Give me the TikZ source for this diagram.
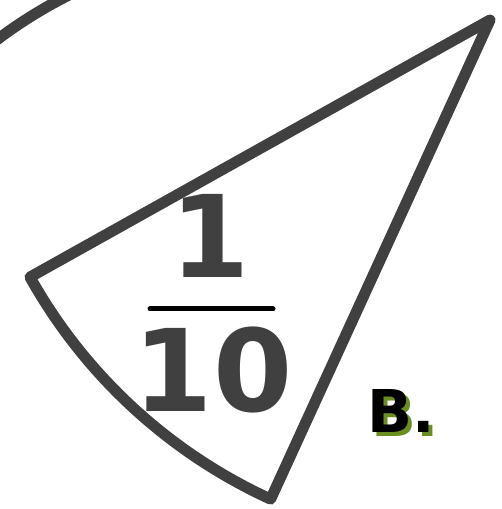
\documentclass[tikz,border=0pt]{standalone}
\usepackage{fontspec}
\setmainfont{DejaVu Sans}
\definecolor{ink}{HTML}{404040}
\definecolor{shadowgreen}{HTML}{6B8E23}
\begin{document}
\begin{tikzpicture}[x=1pt,y=1pt,
  outline/.style={draw=ink,line width=11pt,line join=round},
  bigdigit/.style={text=ink,inner sep=0pt,anchor=base,font=\fontsize{114}{114}\selectfont\bfseries},
  letter/.style={inner sep=0pt,anchor=base west,font=\fontsize{59}{59}\selectfont\bfseries}]
\useasboundingbox (0,0) rectangle (501,509);
\clip (0,0) rectangle (501,509);
\fill[white] (0,0) rectangle (501,509);
% sector
\coordinate (apex) at (490,489);
\draw[outline] (apex) -- ++(209.2:527) coordinate (left)
  arc[start angle=209.2,end angle=245.4,radius=527] coordinate (bottom) -- cycle;
% partial arc top-left
\coordinate (c2) at (280,94);
\draw[draw=ink,line width=11pt] (c2) ++(130:470) arc[start angle=130,end angle=110,radius=470];
% fraction
\node[bigdigit] (num) at (210,231) {1};
\node[bigdigit] (den) at (213,97) {10};
\coordinate (barL) at (150,200);
\coordinate (barR) at (273,200);
\draw[line width=5pt,line cap=round] (barL) -- (barR);
% label
\node[letter,text=shadowgreen] (bs) at (371,72) {B.};
\node[letter,text=black] (b) at (367,76) {B.};
\end{tikzpicture}
\end{document}
